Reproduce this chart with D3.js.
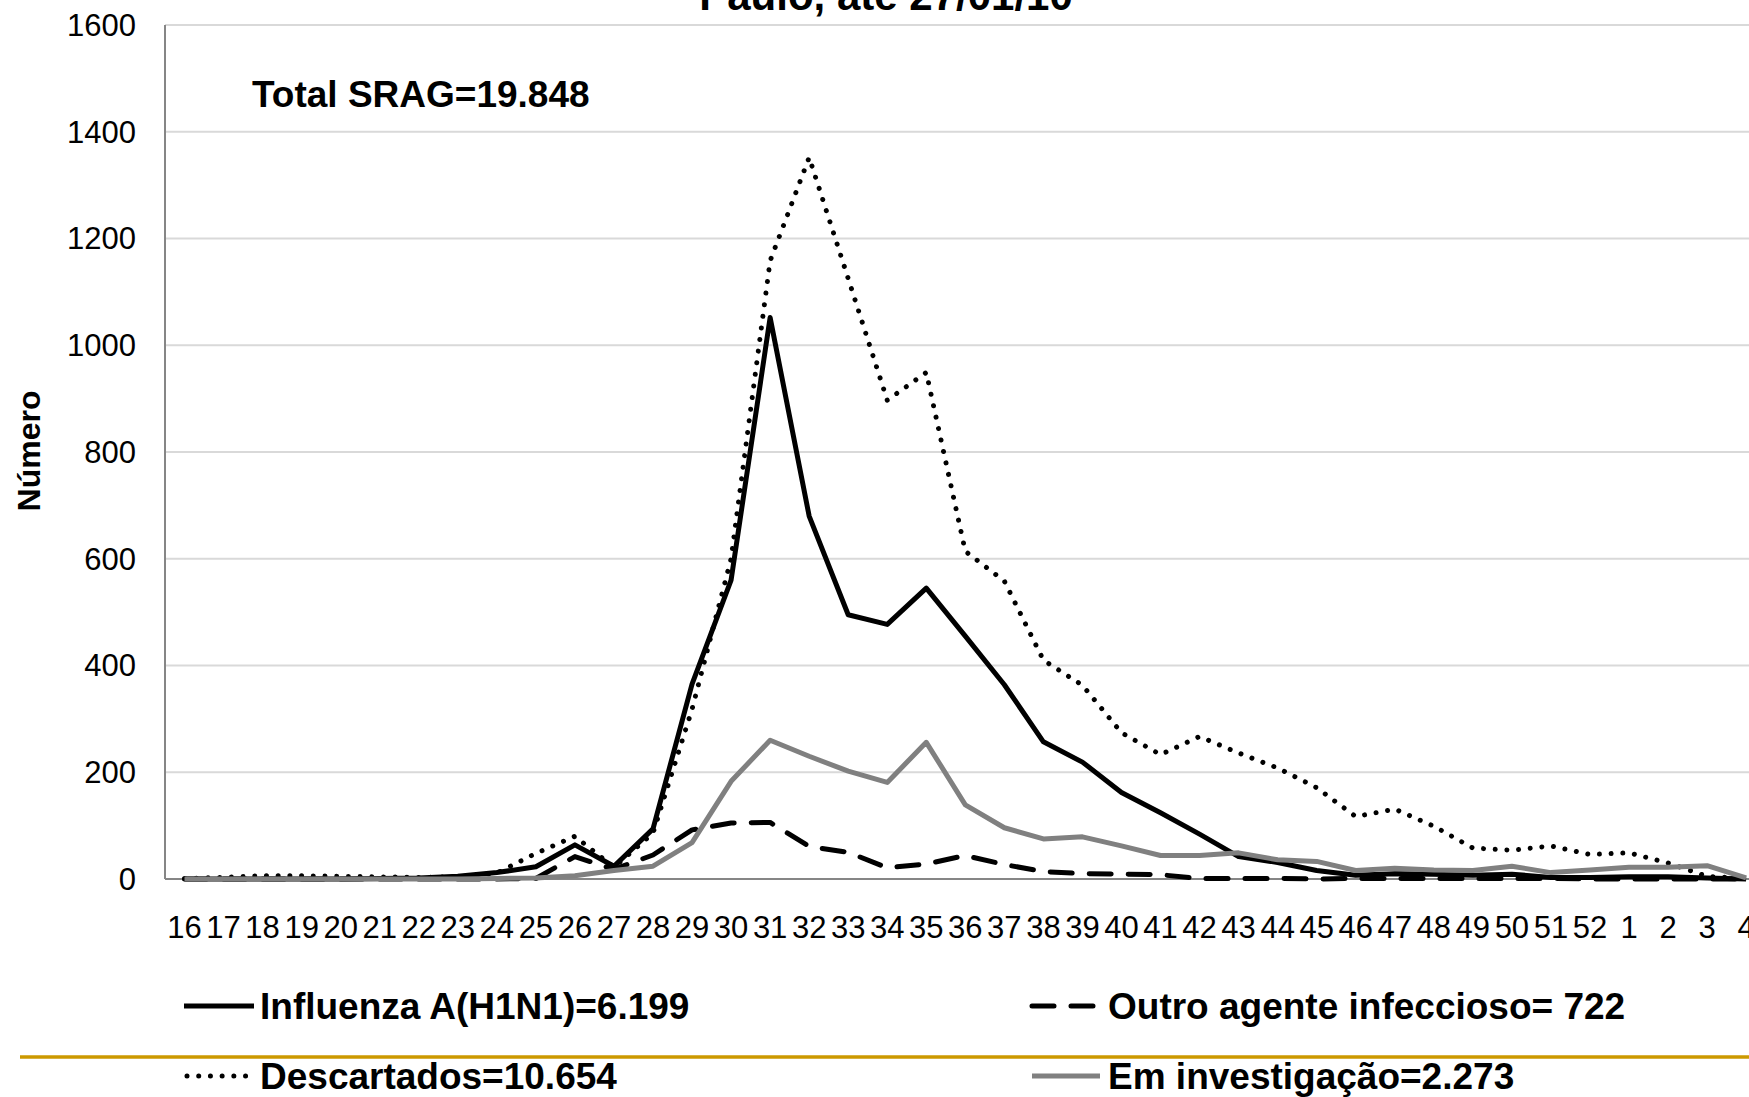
<!DOCTYPE html>
<html>
<head>
<meta charset="utf-8">
<script src="https://cdn.jsdelivr.net/npm/d3@7.9.0/dist/d3.min.js"></script>
<style>
  body { margin: 0; background: #fff; }
  svg { display: block; font-family: "Liberation Sans", Arial, sans-serif; }
</style>
</head>
<body>
<div id="chart"></div>
<script>
// semanas epidemiológicas (16..52 de 2009, 1..4 de 2010)
const weeks = ["16","17","18","19","20","21","22","23","24","25","26","27","28","29","30","31","32","33","34","35","36","37","38","39","40","41","42","43","44","45","46","47","48","49","50","51","52","1","2","3","4"];

const h1n1 = [0,0,0,0,0,1,2,5,12,23,64,24,94,365,560,1052,680,495,477,545,455,364,257,219,162,124,84,42,31,16,7,10,9,7,9,3,3,4,4,2,0];
const outro = [0,0,0,0,0,0,0,0,0,1,42,18,45,92,105,106,61,50,21,28,44,27,14,10,9,8,1,1,1,0,1,1,1,1,1,1,0,0,0,0,0];
const descartados = [1,3,6,6,5,4,3,4,11,48,80,22,86,318,600,1158,1352,1125,897,949,614,558,410,363,274,233,267,236,208,171,117,131,99,58,54,62,46,49,30,5,1];
const investigacao = [0,0,0,0,0,0,0,0,1,2,6,16,24,68,183,260,230,202,181,256,139,96,75,79,62,44,44,49,36,33,16,20,17,16,24,12,17,22,22,25,2];

const yTicks = [0,200,400,600,800,1000,1200,1400,1600];

const titleText = "Paulo, até 27/01/10";
const totalText = "Total SRAG=19.848";
const yLabel = "Número";

// series in drawing order (grey ends up on top)
const series = [
  { name: "Influenza A(H1N1)=6.199", values: h1n1, color: "#000", dash: null },
  { name: "Outro agente infeccioso= 722", values: outro, color: "#000", dash: "22 17" },
  { name: "Descartados=10.654", values: descartados, color: "#000", dash: "0.01 11.7" },
  { name: "Em investigação=2.273", values: investigacao, color: "#808080", dash: null }
];

const W = 1749, H = 1097;
const plot = { left: 165, top: 25, bottom: 879, band: 39.04 };

const svg = d3.select("#chart").append("svg")
  .attr("width", W)
  .attr("height", H);

const x = d3.scaleBand()
  .domain(weeks)
  .range([plot.left, plot.left + plot.band * weeks.length]);

const y = d3.scaleLinear()
  .domain([0, 1600])
  .range([plot.bottom, plot.top]);

// gridlines
svg.append("g")
  .selectAll("line")
  .data(yTicks.filter(t => t > 0))
  .join("line")
  .attr("x1", plot.left)
  .attr("x2", W)
  .attr("y1", d => y(d))
  .attr("y2", d => y(d))
  .attr("stroke", "#d9d9d9")
  .attr("stroke-width", 2);

// y tick labels
svg.append("g")
  .selectAll("text")
  .data(yTicks)
  .join("text")
  .attr("x", 136)
  .attr("y", d => y(d))
  .attr("dy", "0.35em")
  .attr("text-anchor", "end")
  .attr("font-size", 31)
  .attr("fill", "#000")
  .text(d => d);

// x tick labels
svg.append("g")
  .selectAll("text")
  .data(weeks)
  .join("text")
  .attr("x", d => x(d) + x.bandwidth() / 2)
  .attr("y", 938)
  .attr("text-anchor", "middle")
  .attr("font-size", 31)
  .attr("fill", "#000")
  .text(d => d);

// axes lines
svg.append("line")
  .attr("x1", plot.left).attr("x2", plot.left)
  .attr("y1", plot.top).attr("y2", plot.bottom)
  .attr("stroke", "#868686").attr("stroke-width", 2);
svg.append("line")
  .attr("x1", plot.left).attr("x2", W)
  .attr("y1", plot.bottom).attr("y2", plot.bottom)
  .attr("stroke", "#868686").attr("stroke-width", 2);

// lines
const line = d3.line()
  .x((d, i) => x(weeks[i]) + x.bandwidth() / 2)
  .y(d => y(d));

svg.append("g")
  .selectAll("path")
  .data(series)
  .join("path")
  .attr("d", s => line(s.values))
  .attr("fill", "none")
  .attr("stroke", s => s.color)
  .attr("stroke-width", 5)
  .attr("stroke-linejoin", "round")
  .attr("stroke-linecap", s => s.dash ? "round" : "butt")
  .attr("stroke-dasharray", s => s.dash);

// title (only its bottom is visible, cut by the top edge)
svg.append("text")
  .attr("x", 886)
  .attr("y", 10)
  .attr("text-anchor", "middle")
  .attr("font-size", 42)
  .attr("font-weight", "bold")
  .text(titleText);

svg.append("text")
  .attr("x", 252)
  .attr("y", 107)
  .attr("font-size", 37)
  .attr("font-weight", "bold")
  .text(totalText);

svg.append("text")
  .attr("transform", "translate(40,451) rotate(-90)")
  .attr("text-anchor", "middle")
  .attr("font-size", 32)
  .attr("font-weight", "bold")
  .text(yLabel);

// gold separator
svg.append("line")
  .attr("x1", 20).attr("x2", W)
  .attr("y1", 1057).attr("y2", 1057)
  .attr("stroke", "#cc9900")
  .attr("stroke-width", 3.5);

// legend: 2 columns x 2 rows
const legendPos = [
  { x0: 184, x1: 254, tx: 260, by: 1019 },
  { x0: 1032, x1: 1100, tx: 1108, by: 1019 },
  { x0: 187, x1: 254, tx: 260, by: 1089 },
  { x0: 1032, x1: 1100, tx: 1108, by: 1089 }
];

const leg = svg.append("g")
  .selectAll("g")
  .data(series)
  .join("g");

leg.append("line")
  .attr("x1", (s, i) => legendPos[i].x0)
  .attr("x2", (s, i) => legendPos[i].x1)
  .attr("y1", (s, i) => legendPos[i].by - 13)
  .attr("y2", (s, i) => legendPos[i].by - 13)
  .attr("stroke", s => s.color)
  .attr("stroke-width", 5)
  .attr("stroke-linecap", s => s.dash ? "round" : "butt")
  .attr("stroke-dasharray", s => s.dash);

leg.append("text")
  .attr("x", (s, i) => legendPos[i].tx)
  .attr("y", (s, i) => legendPos[i].by)
  .attr("font-size", 37)
  .attr("font-weight", "bold")
  .text(s => s.name);
</script>
</body>
</html>
